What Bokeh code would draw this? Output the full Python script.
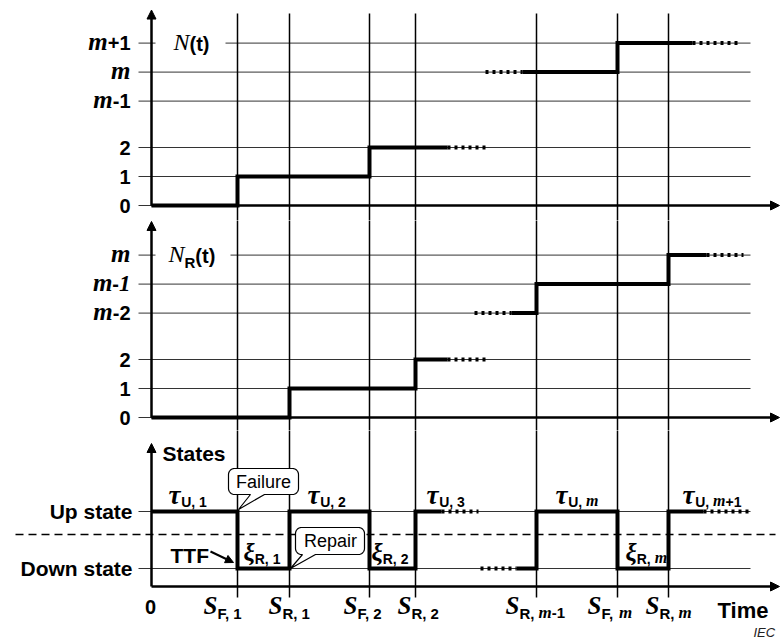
import numpy as np
from bokeh.plotting import figure
from bokeh.layouts import column
from bokeh.models import Range1d, Arrow, NormalHead
from bokeh.core.properties import value
from bokeh.embed import file_html
from bokeh.resources import INLINE

# ---------------- data ----------------
# event instants on the time axis
S_F1, S_R1, S_F2, S_R2, S_Rm1, S_Fm, S_Rm = 86, 138, 218, 264, 385, 466, 517
event_times = [S_F1, S_R1, S_F2, S_R2, S_Rm1, S_Fm, S_Rm]
event_subs = ["F, 1", "R, 1", "F, 2", "R, 2", "R, m-1", "F, m", "R, m"]
event_label_shift = [-34, -21, -26, -18, -31, -30, -23]

# N(t) panel
n_levels = [0, 1, 2, 3.6, 4.6, 5.6]
n_labels = ["0", "1", "2", "m-1", "m", "m+1"]
n_solid_a_x = [0, S_F1, S_F1, S_F2, S_F2, 296]
n_solid_a_y = [0, 0, 1, 1, 2, 2]
n_dot_a_x, n_dot_a_y = [296, 334], [2, 2]
n_dot_b_x, n_dot_b_y = [334, 371], [4.6, 4.6]
n_solid_b_x = [371, S_Fm, S_Fm, 541]
n_solid_b_y = [4.6, 4.6, 5.6, 5.6]
n_dot_c_x, n_dot_c_y = [541, 587], [5.6, 5.6]

# N_R(t) panel
nr_levels = [0, 1, 2, 3.6, 4.6, 5.6]
nr_labels = ["0", "1", "2", "m-2", "m-1", "m"]
nr_solid_a_x = [0, S_R1, S_R1, S_R2, S_R2, 296]
nr_solid_a_y = [0, 0, 1, 1, 2, 2]
nr_dot_a_x, nr_dot_a_y = [296, 334], [2, 2]
nr_dot_b_x, nr_dot_b_y = [323, 360], [3.6, 3.6]
nr_solid_b_x = [360, S_Rm1, S_Rm1, S_Rm, S_Rm, 555]
nr_solid_b_y = [3.6, 3.6, 4.6, 4.6, 5.6, 5.6]
nr_dot_c_x, nr_dot_c_y = [555, 592], [5.6, 5.6]

# States panel
UP, DOWN = 1, 0
st_solid_a_x = [0, S_F1, S_F1, S_R1, S_R1, S_F2, S_F2, S_R2, S_R2, 290]
st_solid_a_y = [1, 1, 0, 0, 1, 1, 0, 0, 1, 1]
st_dot_a_x, st_dot_a_y = [290, 327], [1, 1]
st_dot_b_x, st_dot_b_y = [329, 365], [0, 0]
st_solid_b_x = [365, S_Rm1, S_Rm1, S_Fm, S_Fm, S_Rm, S_Rm, 552]
st_solid_b_y = [0, 0, 1, 1, 0, 0, 1, 1]
st_dot_c_x, st_dot_c_y = [552, 599], [1, 1]

tau_subs = ["U, 1", "U, 2", "U, 3", "U, m", "U, m+1"]
tau_x = [17, 156, 275, 404, 531]
xi_subs = ["R, 1", "R, 2", "R, m"]
xi_x = [92, 220, 474]

# ---------------- styling helpers ----------------
SANS, SERIF = "Liberation Sans", "Liberation Serif"
FONTS = {"SB": (SANS, "bold"), "SR": (SANS, "normal"), "SI": (SANS, "italic"),
         "TBI": (SERIF, "bold italic"), "TI": (SERIF, "italic")}
WID = {
    "SB": {' ': .278, ',': .278, '-': .333, '+': .584, '(': .333, ')': .333, 'F': .611,
           'R': .722, 'U': .722, 'T': .611, 'D': .722, 'S': .667, 't': .333, 'm': .889,
           'i': .278, 'e': .556, 'a': .556, 's': .556, 'p': .611, 'o': .611, 'w': .778,
           'n': .611},
    "SR": {'F': .611, 'a': .556, 'i': .222, 'l': .222, 'u': .556, 'r': .333, 'e': .556,
           'R': .722, 'p': .556, 'I': .278, 'E': .667, 'C': .722},
    "SI": {'I': .278, 'E': .667, 'C': .722},
    "TBI": {'m': .778, 'N': .722, 'S': .556, '-': .333, '1': .5, 'τ': .47, 'ξ': .45},
    "TI": {'N': .667},
}
MID = 0.345   # distance (em) from the alphabetic baseline up to the text box middle
INK = "black"


def rich(p, x, y, parts, align="left", yoff=0.0, color=INK):
    """yoff / dy give the alphabetic baseline in screen pixels below (x, y)."""
    widths = [sum(WID[f].get(c, .556) for c in t) * s for t, f, s, dy in parts]
    total = sum(widths)
    cur = {"left": 0.0, "center": -total / 2, "right": -total}[align]
    for (t, f, s, dy), w in zip(parts, widths):
        fam, style = FONTS[f]
        p.text(x=[x], y=[y], text=[t], x_offset=cur, y_offset=yoff + dy - MID * s,
               text_align="left", text_baseline="middle",
               text_font=value(fam), text_font_style=style,
               text_font_size=f"{s}px", text_color=color)
        cur += w


def mk(text, size, msize, dy=0):
    parts, buf = [], ""
    for c in text:
        if c == "m":
            if buf:
                parts.append((buf, "SB", size, dy))
                buf = ""
            parts.append(("m", "TBI", msize, dy))
        else:
            buf += c
    if buf:
        parts.append((buf, "SB", size, dy))
    return parts


x_range = Range1d(-151, 629)


def make_fig(h, y0, y1):
    p = figure(width=780, height=h, x_range=x_range, y_range=Range1d(y0, y1),
               output_backend="svg", toolbar_location=None, min_border=0,
               x_axis_location=None, y_axis_location=None, title=None)
    p.grid.visible = False
    p.outline_line_color = None
    return p


def step(p, sx, sy, dotted=()):
    p.line(sx, sy, line_width=4, color=INK, line_join="miter")
    for dx, dy in dotted:
        p.line(dx, dy, line_width=4, color=INK, line_dash="3 4")


def axes(p, yaxis_base, ytip, xaxis_y):
    p.add_layout(Arrow(end=NormalHead(size=9, fill_color=INK, line_color=INK),
                       x_start=0, y_start=yaxis_base, x_end=0, y_end=ytip,
                       line_width=2.5, line_color=INK))
    p.add_layout(Arrow(end=NormalHead(size=9, fill_color=INK, line_color=INK),
                       x_start=0, y_start=xaxis_y, x_end=628, y_end=xaxis_y,
                       line_width=2.5, line_color=INK))


GX0, GX1 = -13, 599
LBL_X = -21

# ---------------- top panel: N(t) ----------------
p1 = make_fig(220, -15 / 29, 205 / 29)
p1.segment(x0=[GX0] * len(n_levels), y0=n_levels, x1=[GX1] * len(n_levels), y1=n_levels,
           line_width=1, color="#333")
p1.quad(left=[4], right=[74], bottom=[n_levels[-1] - 0.35], top=[n_levels[-1] + 0.35],
        fill_color="white", line_color=None)
p1.segment(x0=event_times, y0=[6.62] * 7, x1=event_times, y1=[-1] * 7,
           line_width=1.5, color=INK)
step(p1, n_solid_a_x, n_solid_a_y, [(n_dot_a_x, n_dot_a_y), (n_dot_b_x, n_dot_b_y)])
step(p1, n_solid_b_x, n_solid_b_y, [(n_dot_c_x, n_dot_c_y)])
axes(p1, 0, 6.74, 0)
for lv, lb in zip(n_levels, n_labels):
    rich(p1, LBL_X, lv, mk(lb, 20, 25), align="right", yoff=7)
rich(p1, 22, n_levels[-1], [("N", "TI", 24, 0), ("(t)", "SB", 20, 0)], yoff=7.5)

# ---------------- middle panel: N_R(t) ----------------
p2 = make_fig(210, -13 / 29, 197 / 29)
p2.segment(x0=[GX0] * len(nr_levels), y0=nr_levels, x1=[GX1] * len(nr_levels), y1=nr_levels,
           line_width=1, color="#333")
p2.quad(left=[4], right=[79], bottom=[nr_levels[-1] - 0.35], top=[nr_levels[-1] + 0.35],
        fill_color="white", line_color=None)
p2.segment(x0=event_times, y0=[8] * 7, x1=event_times, y1=[-1] * 7,
           line_width=1.5, color=INK)
step(p2, nr_solid_a_x, nr_solid_a_y, [(nr_dot_a_x, nr_dot_a_y)])
step(p2, nr_solid_b_x, nr_solid_b_y, [(nr_dot_b_x, nr_dot_b_y), (nr_dot_c_x, nr_dot_c_y)])
axes(p2, 0, 6.76, 0)
for lv, lb in zip(nr_levels, nr_labels):
    if lb == "m-1":
        parts = [("m", "TBI", 25, 0), ("-", "SB", 20, 0), ("1", "TBI", 23, 0)]
    else:
        parts = mk(lb, 20, 25)
    rich(p2, LBL_X, lv, parts, align="right", yoff=7)
rich(p2, 17, nr_levels[-1], [("N", "TI", 24, 0), ("R", "SB", 15, 5), ("(t)", "SB", 20, 0)],
     yoff=7.5)

# ---------------- bottom panel: states ----------------
KY = 57.0
AXIS_B = -18 / KY
p3 = make_fig(214, -76 / KY, 138 / KY)
p3.segment(x0=[GX0, GX0], y0=[UP, DOWN], x1=[GX1, GX1], y1=[UP, DOWN],
           line_width=1, color="#333")
p3.line([-136, 624], [34 / KY] * 2, line_width=1.5, color=INK, line_dash="8 5")
p3.segment(x0=event_times, y0=[3] * 7, x1=event_times, y1=[-29 / KY] * 7,
           line_width=1.5, color=INK)
step(p3, st_solid_a_x, st_solid_a_y, [(st_dot_a_x, st_dot_a_y), (st_dot_b_x, st_dot_b_y)])
step(p3, st_solid_b_x, st_solid_b_y, [(st_dot_c_x, st_dot_c_y)])
axes(p3, AXIS_B, 125 / KY, AXIS_B)


def callout(p, x0, x1, yb, yt, bx0, bx1, tip, r=6):
    ry = r / KY

    def arc(cx, cy, a0, a1):
        a = np.radians(np.linspace(a0, a1, 7))
        return list(cx + r * np.cos(a)), list(cy + ry * np.sin(a))

    xs, ys = [], []
    for cx, cy, a0, a1 in [(x0 + r, yt - ry, 180, 90), (x1 - r, yt - ry, 90, 0),
                           (x1 - r, yb + ry, 0, -90)]:
        ax, ay = arc(cx, cy, a0, a1)
        xs += ax
        ys += ay
    xs += [bx1, tip[0], bx0]
    ys += [yb, tip[1], yb]
    ax, ay = arc(x0 + r, yb + ry, -90, -180)
    xs += ax
    ys += ay
    p.patch(xs, ys, fill_color="white", line_color=INK, line_width=1.2)


callout(p3, 77, 147, 74 / KY, 100 / KY, 99, 113, (S_F1 + 1, UP + 2 / KY))
rich(p3, 112, UP, [("Failure", "SR", 18, 0)], align="center", yoff=-23.5)
callout(p3, 144, 213, 14 / KY, 41 / KY, 151, 164, (S_R1 + 1, DOWN))
rich(p3, 179, DOWN, [("Repair", "SR", 18, 0)], align="center", yoff=-21.5)

p3.add_layout(Arrow(end=NormalHead(size=8, fill_color=INK, line_color=INK),
                    x_start=59, y_start=17 / KY, x_end=82, y_end=6 / KY,
                    line_width=2, line_color=INK))

rich(p3, -19, UP, [("Up state", "SB", 21, 0)], align="right", yoff=7.5)
rich(p3, -19, DOWN, [("Down state", "SB", 21, 0)], align="right", yoff=7.5)
rich(p3, 11, UP, [("States", "SB", 21, 0)], yoff=-50.5)
rich(p3, 19, DOWN, [("TTF", "SB", 21, 0)], yoff=-6)

for tx, sub in zip(tau_x, tau_subs):
    rich(p3, tx, UP, [("τ", "TBI", 27, 0)] + mk(sub, 14, 16, 2), yoff=-7)
for xx, sub in zip(xi_x, xi_subs):
    rich(p3, xx, DOWN, [("ξ", "TBI", 25, 0)] + mk(sub, 14, 16, 2), yoff=-7)
for et, sub, sh in zip(event_times, event_subs, event_label_shift):
    rich(p3, et + sh, AXIS_B, [("S", "TBI", 25, 0)] + mk(sub, 15, 17, 4), yoff=28)

rich(p3, -1, AXIS_B, [("0", "SB", 20, 0)], align="center", yoff=27)
rich(p3, 566, AXIS_B, [("Time", "SB", 22, 0)], yoff=32)
rich(p3, 602, AXIS_B, [("IEC", "SI", 13, 0)], yoff=50, color="#222")

layout = column(p1, p2, p3, spacing=0)
open("out.html", "w").write(file_html(layout, INLINE))
